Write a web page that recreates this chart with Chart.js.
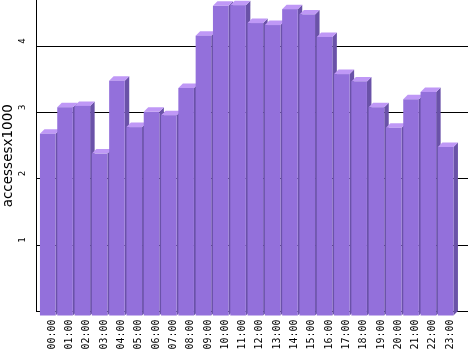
<!DOCTYPE html>
<html>
<head>
<meta charset="utf-8">
<script src="https://cdn.jsdelivr.net/npm/chart.js@4"></script>
<style>
  html, body { margin: 0; padding: 0; background: #fff; }
  #box { width: 468px; height: 351px; }
</style>
</head>
<body>
<div id="box"><canvas id="grafico"></canvas></div>
<script>
// datos
const horas = ['00:00', '01:00', '02:00', '03:00', '04:00', '05:00', '06:00', '07:00',
               '08:00', '09:00', '10:00', '11:00', '12:00', '13:00', '14:00', '15:00',
               '16:00', '17:00', '18:00', '19:00', '20:00', '21:00', '22:00', '23:00'];
const accesos = [2.75, 3.15, 3.17, 2.45, 3.55, 2.85, 3.08, 3.03,
                 3.44, 4.23, 4.68, 4.69, 4.42, 4.39, 4.63, 4.55,
                 4.21, 3.65, 3.54, 3.15, 2.84, 3.27, 3.38, 2.55];
const ticksY = [0, 1, 2, 3, 4];

const colorFrente = '#9370DB';
const colorLado = '#6A52A8';
const colorArriba = '#BF98F6';
const prof = 4.5;

// barras en 3D: cara lateral, superior y frontal a partir de cada barra
const barras3d = {
    id: 'barras3d',
    afterDatasetsDraw(chart) {
        const ctx = chart.ctx;
        const meta = chart.getDatasetMeta(0);
        ctx.save();
        meta.data.forEach(bar => {
            const { x, y, base, width } = bar.getProps(['x', 'y', 'base', 'width'], true);
            const bl = x - width / 2, br = x + width / 2;
            const fl = bl - prof, fr = br - prof, ft = y + prof, fb = base + prof;
            ctx.fillStyle = colorLado;
            ctx.beginPath();
            ctx.moveTo(fr, ft); ctx.lineTo(br, y); ctx.lineTo(br, base); ctx.lineTo(fr, fb);
            ctx.closePath(); ctx.fill();
            ctx.fillStyle = colorArriba;
            ctx.beginPath();
            ctx.moveTo(fl, ft); ctx.lineTo(bl, y); ctx.lineTo(br, y); ctx.lineTo(fr, ft);
            ctx.closePath(); ctx.fill();
            ctx.fillStyle = colorFrente;
            ctx.fillRect(fl, ft, fr - fl, fb - ft);
        });
        ctx.restore();
    }
};

function crearGrafico() {
    const ctx = document.getElementById('grafico').getContext('2d');
    return new Chart(ctx, {
        type: 'bar',
        data: {
            datasets: [{
                label: 'accesses',
                data: accesos.map((v, i) => ({ x: i, y: v })),
                backgroundColor: 'rgba(0,0,0,0)',
                barThickness: 15.6
            }]
        },
        options: {
            responsive: true,
            maintainAspectRatio: false,
            animation: false,
            layout: { padding: 0 },
            plugins: {
                legend: { display: false },
                tooltip: { enabled: false }
            },
            scales: {
                x: {
                    type: 'linear',
                    offset: false,
                    min: -0.939,
                    max: 24.032,
                    grid: { display: false, drawTicks: false },
                    border: { display: false },
                    afterBuildTicks: s => { s.ticks = horas.map((h, i) => ({ value: i })); },
                    afterFit: s => {
                        s.height = 39.5;
                        s.paddingLeft = 0; s.paddingRight = 0;
                    },
                    ticks: {
                        autoSkip: false,
                        minRotation: 90,
                        maxRotation: 90,
                        padding: 8,
                        color: '#000',
                        font: { family: 'DejaVu Sans Mono', size: 10 },
                        callback: v => horas[v] || ''
                    }
                },
                y: {
                    min: 0,
                    max: 4.7,
                    grid: { color: '#000', lineWidth: 1, drawTicks: false },
                    border: { display: true, color: '#000', width: 1 },
                    afterBuildTicks: s => { s.ticks = ticksY.map(v => ({ value: v })); },
                    afterFit: s => {
                        s.width = 36;
                        s.paddingTop = 0; s.paddingBottom = 0;
                    },
                    title: {
                        display: true,
                        text: 'accessesx1000',
                        color: '#000',
                        padding: 0,
                        font: { family: 'DejaVu Sans', size: 13.5 }
                    },
                    ticks: {
                        minRotation: 90,
                        maxRotation: 90,
                        padding: 13,
                        labelOffset: -8,
                        color: '#000',
                        font: { family: 'DejaVu Sans Mono', size: 9 },
                        callback: v => (v === 0 ? '' : String(v))
                    }
                }
            }
        },
        plugins: [barras3d]
    });
}

window.addEventListener('load', () => {
    crearGrafico();
});
</script>
</body>
</html>
